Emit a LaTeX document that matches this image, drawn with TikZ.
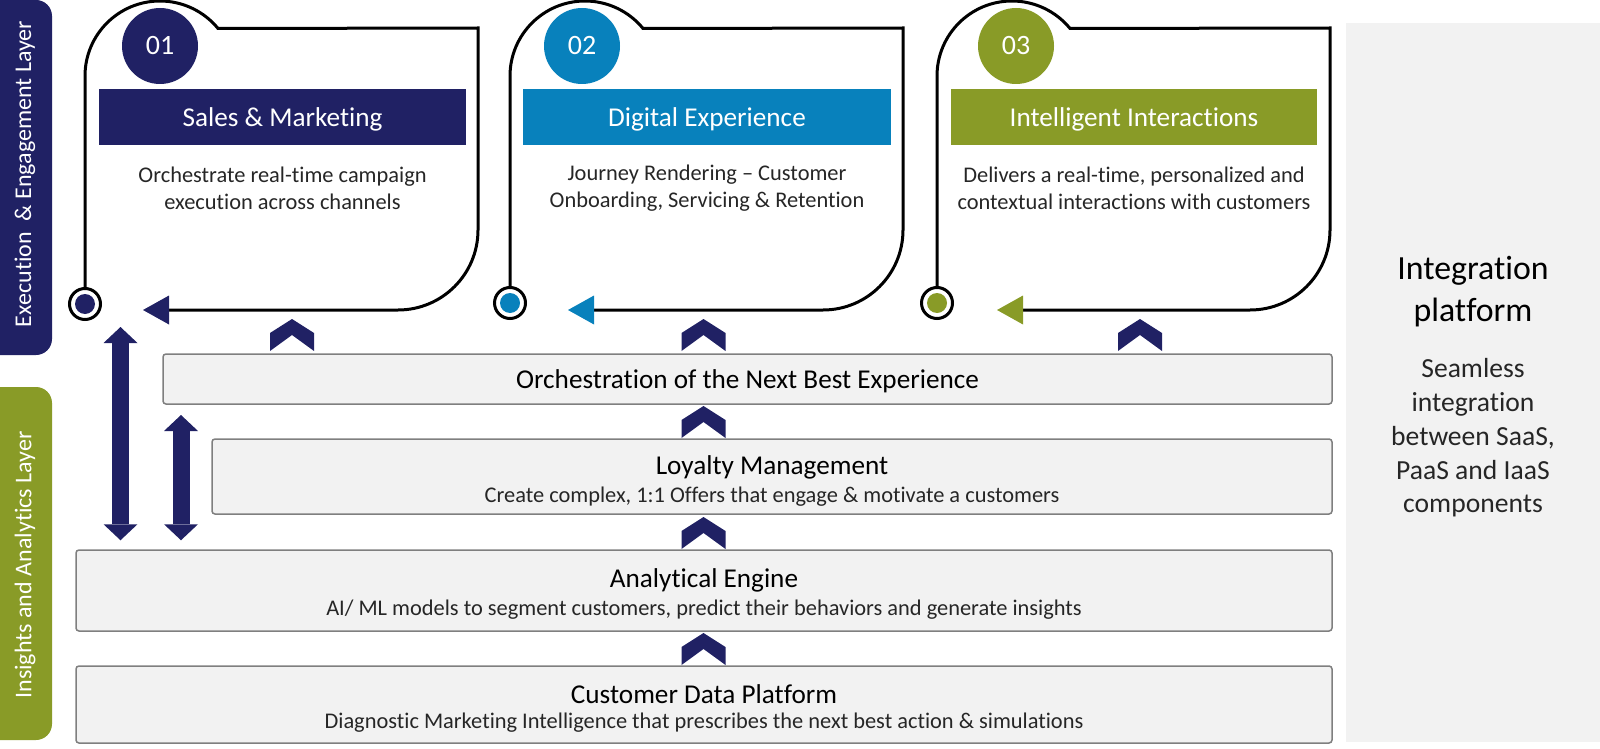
\documentclass[tikz,border=0pt]{standalone}
\usepackage{fontspec}
\setmainfont{Carlito}[Ligatures={TeX,NoCommon}]
\usetikzlibrary{arrows.meta}

\definecolor{layernavy}{RGB}{32,33,100}
\definecolor{layerblue}{RGB}{8,129,188}
\definecolor{layergreen}{RGB}{137,155,39}
\definecolor{boxfill}{RGB}{242,242,242}
\definecolor{boxline}{RGB}{127,127,127}

\begin{document}
\begin{tikzpicture}[x=0.5pt,y=-0.5pt,line join=miter]

	\def \cardtop{28}
	\def \cardbase{310}
	\def \chevron#1#2{\fill[layernavy] (#1-22,#2) -- (#1-22,#2-18) -- (#1,#2-32) -- (#1+22,#2-18) -- (#1+22,#2) -- (#1,#2-16) -- cycle;}
	\tikzstyle{layerbar}=[inner sep=0pt,minimum width=36pt,rounded corners=8pt]
	\tikzstyle{bartext}=[rotate=90,text=white,font=\fontsize{12}{14}\selectfont]
	\tikzstyle{cardline}=[draw=black,line width=1.5pt]
	\tikzstyle{ring}=[circle,draw=black,line width=1.5pt,fill=white,minimum size=15.5pt,inner sep=0pt]
	\tikzstyle{ringdot}=[circle,minimum size=10pt,inner sep=0pt]
	\tikzstyle{disc}=[circle,minimum size=38pt,inner sep=0pt,text=white,font=\fontsize{14}{16}\selectfont]
	\tikzstyle{banner}=[minimum height=28pt,inner sep=0pt,text depth=0pt,text=white,font=\fontsize{13.6}{16}\selectfont]
	\tikzstyle{cardtext}=[align=center,text=black!85,font=\fontsize{11.2}{13.5}\selectfont]
	\tikzstyle{layerbox}=[draw=boxline,fill=boxfill,line width=0.75pt,rounded corners=1.5pt,inner sep=0pt]
	\tikzstyle{boxtitle}=[text=black,font=\fontsize{13.6}{16}\selectfont]
	\tikzstyle{boxsub}=[text=black!85,font=\fontsize{11.2}{13.5}\selectfont]
	\tikzstyle{dblarrow}=[draw=layernavy,line width=8.5pt,{Triangle[length=8pt,width=17pt,line width=0pt]}-{Triangle[length=8pt,width=17pt,line width=0pt]}]

	\useasboundingbox (0,0) rectangle (1600,749);

	% layer labels
	\node[layerbar,fill=layernavy,minimum height=177.5pt]	(execbar)	at (16,177.5)	{};
	\node[bartext]	(execlabel)	at (25,174)	{Execution \ \& Engagement Layer};
	\node[layerbar,fill=layergreen,minimum height=176.5pt]	(insightbar)	at (16,563.5)	{};
	\node[bartext]	(insightlabel)	at (25,565)	{Insights and Analytics Layer};

	% integration platform
	\node[fill=boxfill,minimum width=127pt,minimum height=359.5pt,inner sep=0pt]	(panel)	at (1473,382.5)	{};
	\node[align=center,font=\fontsize{16.9}{21}\selectfont]	(paneltitle)	at (1473,292)	{Integration\\platform};
	\node[align=center,text=black!85,font=\fontsize{13.8}{16.9}\selectfont]	(paneltext)	at (1473,438)	{Seamless\\integration\\between SaaS,\\PaaS and IaaS\\components};

	% card 01
	\node[ring]	(ring1)	at (85,304)	{};
	\node[ringdot,fill=layernavy]	(dot1)	at (ring1)	{};
	\draw[cardline,-{Triangle[length=13pt,width=14.5pt,line width=0pt,color=layernavy]}] (ring1.north) -- (85,76) arc[start angle=180,end angle=39.3,radius=37.5pt] -- (478,\cardtop) -- (478,230) arc[start angle=0,end angle=-90,radius=40pt] -- (143,\cardbase);
	\node[disc,fill=layernavy]	(num1)	at (160,46)	{01};
	\node[banner,fill=layernavy,minimum width=183.5pt]	(sales)	at (282.5,117)	{Sales \& Marketing};
	\node[cardtext]	(salestext)	at (282.5,188)	{Orchestrate real-time campaign\\execution across channels};

	% card 02
	\node[ring]	(ring2)	at (510,303)	{};
	\node[ringdot,fill=layerblue]	(dot2)	at (ring2)	{};
	\draw[cardline,-{Triangle[length=13pt,width=14.5pt,line width=0pt,color=layerblue]}] (ring2.north) -- (510,76) arc[start angle=180,end angle=39.3,radius=37.5pt] -- (903,\cardtop) -- (903,230) arc[start angle=0,end angle=-90,radius=40pt] -- (568,\cardbase);
	\node[disc,fill=layerblue]	(num2)	at (582,46)	{02};
	\node[banner,fill=layerblue,minimum width=184pt]	(digital)	at (707,117)	{Digital Experience};
	\node[cardtext]	(digitaltext)	at (707,188)	{Journey Rendering \textendash{} Customer\\Onboarding, Servicing \& Retention};

	% card 03
	\node[ring]	(ring3)	at (937,303)	{};
	\node[ringdot,fill=layergreen]	(dot3)	at (ring3)	{};
	\draw[cardline,-{Triangle[length=13pt,width=14.5pt,line width=0pt,color=layergreen]}] (ring3.north) -- (937,76) arc[start angle=180,end angle=39.3,radius=37.5pt] -- (1330,\cardtop) -- (1330,230) arc[start angle=0,end angle=-90,radius=40pt] -- (997,\cardbase);
	\node[disc,fill=layergreen]	(num3)	at (1016,46)	{03};
	\node[banner,fill=layergreen,minimum width=183pt]	(intelligent)	at (1134,117)	{Intelligent Interactions};
	\node[cardtext]	(intelligenttext)	at (1134,188)	{Delivers a real-time, personalized and\\contextual interactions with customers};

	% flow boxes
	\node[layerbox,minimum width=584.5pt,minimum height=25pt]	(orch)	at (747.5,379)	{};
	\node[boxtitle]	(orchtitle)	at (747.5,381)	{Orchestration of the Next Best Experience};
	\node[layerbox,minimum width=560pt,minimum height=37.5pt]	(loyal)	at (772,476.5)	{};
	\node[boxtitle]	(loyaltitle)	at (772,467)	{Loyalty Management};
	\node[boxsub]	(loyalsub)	at (772,497)	{Create complex, 1:1 Offers that engage \& motivate a customers};
	\node[layerbox,minimum width=628pt,minimum height=40.5pt]	(anal)	at (704,590.5)	{};
	\node[boxtitle]	(analtitle)	at (704,580)	{Analytical Engine};
	\node[boxsub]	(analsub)	at (704,610)	{AI/ ML models to segment customers, predict their behaviors and generate insights};
	\node[layerbox,minimum width=628pt,minimum height=38.5pt]	(cdp)	at (704,704.5)	{};
	\node[boxtitle]	(cdptitle)	at (704,694)	{Customer Data Platform};
	\node[boxsub]	(cdpsub)	at (704,723)	{Diagnostic Marketing Intelligence that prescribes the next best action \& simulations};

	% chevrons
	\chevron{292}{351}
	\chevron{703.5}{351}
	\chevron{1140}{351}
	\chevron{703.5}{438}
	\chevron{703.5}{549}
	\chevron{703.5}{665}

	% double arrows
	\coordinate (bigtop) at (120.5,327);
	\coordinate (smalltop) at (181,415);
	\draw[dblarrow,shorten >=4.5pt] (bigtop) -- (bigtop |- anal.north);
	\draw[dblarrow,shorten >=4.5pt] (smalltop) -- (smalltop |- anal.north);
\end{tikzpicture}
\end{document}
